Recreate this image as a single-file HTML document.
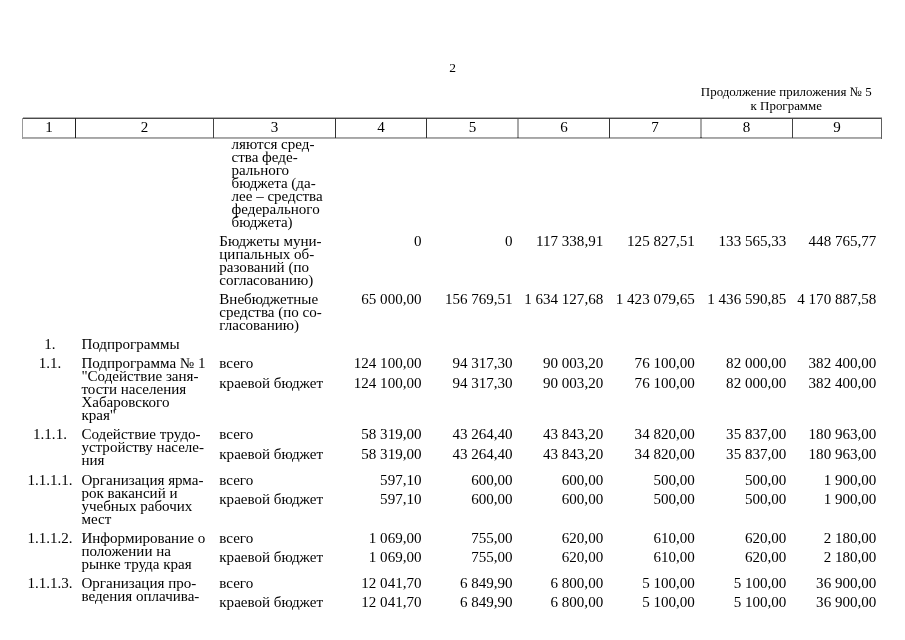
<!DOCTYPE html>
<html lang="ru"><head><meta charset="utf-8"><title>Приложение № 5</title>
<style>
html,body{margin:0;padding:0;background:#fff;}
body{width:905px;height:640px;position:relative;overflow:hidden;font-family:"Liberation Serif","Times New Roman",serif;font-size:15.05px;color:#000;}
.t{position:absolute;white-space:nowrap;line-height:16px;height:16px;}
.r{text-align:right;}
.c{text-align:center;}
.h{font-size:12.93px;}
.p{font-size:13.5px;}
.hl{position:absolute;background:#777;}
.vl{position:absolute;background:#111;}
</style></head><body>

<div class="hl" style="left:23px;top:117px;width:859px;height:1px;background:#b0b0b0"></div>
<div class="hl" style="left:22px;top:118px;width:860px;height:1px;background:#4a4a4a"></div>
<div class="hl" style="left:22px;top:137px;width:860px;height:1px;background:#a6a6a6"></div>
<div class="hl" style="left:22px;top:138px;width:860px;height:1px;background:#adadad"></div>
<div class="vl" style="left:22px;top:118px;width:1px;height:21px;background:#9a9a9a"></div>
<div class="vl" style="left:75px;top:118px;width:1px;height:20px;background:#222"></div>
<div class="vl" style="left:213px;top:118px;width:1px;height:20px;background:#444"></div>
<div class="vl" style="left:335px;top:118px;width:1px;height:20px;background:#333"></div>
<div class="vl" style="left:426px;top:118px;width:1px;height:20px;background:#333"></div>
<div class="vl" style="left:517px;top:119px;width:2px;height:18px;background:#a8a8a8"></div>
<div class="vl" style="left:609px;top:118px;width:1px;height:20px;background:#333"></div>
<div class="vl" style="left:700px;top:119px;width:2px;height:18px;background:#a8a8a8"></div>
<div class="vl" style="left:792px;top:118px;width:1px;height:20px;background:#444"></div>
<div class="vl" style="left:881px;top:118px;width:1px;height:21px;background:#606060"></div>
<div class="vl" style="left:517px;top:137px;width:2px;height:1px;background:#666"></div>
<div class="vl" style="left:700px;top:137px;width:2px;height:1px;background:#555"></div>
<div class="t c p" style="left:302.6px;width:300px;top:59.9px">2</div>
<div class="t c h" style="left:636.3px;width:300px;top:84.0px">Продолжение приложения № 5</div>
<div class="t c h" style="left:636.3px;width:300px;top:97.7px">к Программе</div>
<div class="t c" style="left:-101.0px;width:300px;top:119.4px">1</div>
<div class="t c" style="left:-5.5px;width:300px;top:119.4px">2</div>
<div class="t c" style="left:124.5px;width:300px;top:119.4px">3</div>
<div class="t c" style="left:231.0px;width:300px;top:119.4px">4</div>
<div class="t c" style="left:322.5px;width:300px;top:119.4px">5</div>
<div class="t c" style="left:414.0px;width:300px;top:119.4px">6</div>
<div class="t c" style="left:505.0px;width:300px;top:119.4px">7</div>
<div class="t c" style="left:596.5px;width:300px;top:119.4px">8</div>
<div class="t c" style="left:687.0px;width:300px;top:119.4px">9</div>
<div class="t" style="left:231.5px;top:136.2px">ляются сред-</div>
<div class="t" style="left:231.5px;top:149.1px">ства феде-</div>
<div class="t" style="left:231.5px;top:162.0px">рального</div>
<div class="t" style="left:231.5px;top:174.9px">бюджета (да-</div>
<div class="t" style="left:231.5px;top:187.8px">лее – средства</div>
<div class="t" style="left:231.5px;top:200.7px">федерального</div>
<div class="t" style="left:231.5px;top:213.6px">бюджета)</div>
<div class="t" style="left:219.3px;top:233.0px">Бюджеты муни-</div>
<div class="t" style="left:219.3px;top:245.9px">ципальных об-</div>
<div class="t" style="left:219.3px;top:258.8px">разований (по</div>
<div class="t" style="left:219.3px;top:271.7px">согласованию)</div>
<div class="t" style="left:219.3px;top:290.9px">Внебюджетные</div>
<div class="t" style="left:219.3px;top:303.8px">средства (по со-</div>
<div class="t" style="left:219.3px;top:316.7px">гласованию)</div>
<div class="t r" style="left:221.5px;width:200px;top:233.0px">0</div>
<div class="t r" style="left:312.6px;width:200px;top:233.0px">0</div>
<div class="t r" style="left:403.2px;width:200px;top:233.0px">117 338,91</div>
<div class="t r" style="left:494.8px;width:200px;top:233.0px">125 827,51</div>
<div class="t r" style="left:586.3px;width:200px;top:233.0px">133 565,33</div>
<div class="t r" style="left:676.3px;width:200px;top:233.0px">448 765,77</div>
<div class="t r" style="left:221.5px;width:200px;top:290.9px">65 000,00</div>
<div class="t r" style="left:312.6px;width:200px;top:290.9px">156 769,51</div>
<div class="t r" style="left:403.2px;width:200px;top:290.9px">1 634 127,68</div>
<div class="t r" style="left:494.8px;width:200px;top:290.9px">1 423 079,65</div>
<div class="t r" style="left:586.3px;width:200px;top:290.9px">1 436 590,85</div>
<div class="t r" style="left:676.3px;width:200px;top:290.9px">4 170 887,58</div>
<div class="t c" style="left:-100.0px;width:300px;top:336.4px">1.</div>
<div class="t" style="left:81.4px;top:336.4px">Подпрограммы</div>
<div class="t c" style="left:-100.0px;width:300px;top:355.4px">1.1.</div>
<div class="t" style="left:81.4px;top:355.4px">Подпрограмма № 1</div>
<div class="t" style="left:81.4px;top:368.3px">"Содействие заня-</div>
<div class="t" style="left:81.4px;top:381.2px">тости населения</div>
<div class="t" style="left:81.4px;top:394.1px">Хабаровского</div>
<div class="t" style="left:81.4px;top:407.0px">края"</div>
<div class="t" style="left:219.3px;top:355.4px">всего</div>
<div class="t" style="left:219.3px;top:375.0px">краевой бюджет</div>
<div class="t r" style="left:221.5px;width:200px;top:355.4px">124 100,00</div>
<div class="t r" style="left:312.6px;width:200px;top:355.4px">94 317,30</div>
<div class="t r" style="left:403.2px;width:200px;top:355.4px">90 003,20</div>
<div class="t r" style="left:494.8px;width:200px;top:355.4px">76 100,00</div>
<div class="t r" style="left:586.3px;width:200px;top:355.4px">82 000,00</div>
<div class="t r" style="left:676.3px;width:200px;top:355.4px">382 400,00</div>
<div class="t r" style="left:221.5px;width:200px;top:375.0px">124 100,00</div>
<div class="t r" style="left:312.6px;width:200px;top:375.0px">94 317,30</div>
<div class="t r" style="left:403.2px;width:200px;top:375.0px">90 003,20</div>
<div class="t r" style="left:494.8px;width:200px;top:375.0px">76 100,00</div>
<div class="t r" style="left:586.3px;width:200px;top:375.0px">82 000,00</div>
<div class="t r" style="left:676.3px;width:200px;top:375.0px">382 400,00</div>
<div class="t c" style="left:-100.0px;width:300px;top:426.4px">1.1.1.</div>
<div class="t" style="left:81.4px;top:426.4px">Содействие трудо-</div>
<div class="t" style="left:81.4px;top:439.3px">устройству населе-</div>
<div class="t" style="left:81.4px;top:452.2px">ния</div>
<div class="t" style="left:219.3px;top:426.4px">всего</div>
<div class="t" style="left:219.3px;top:445.6px">краевой бюджет</div>
<div class="t r" style="left:221.5px;width:200px;top:426.4px">58 319,00</div>
<div class="t r" style="left:312.6px;width:200px;top:426.4px">43 264,40</div>
<div class="t r" style="left:403.2px;width:200px;top:426.4px">43 843,20</div>
<div class="t r" style="left:494.8px;width:200px;top:426.4px">34 820,00</div>
<div class="t r" style="left:586.3px;width:200px;top:426.4px">35 837,00</div>
<div class="t r" style="left:676.3px;width:200px;top:426.4px">180 963,00</div>
<div class="t r" style="left:221.5px;width:200px;top:445.6px">58 319,00</div>
<div class="t r" style="left:312.6px;width:200px;top:445.6px">43 264,40</div>
<div class="t r" style="left:403.2px;width:200px;top:445.6px">43 843,20</div>
<div class="t r" style="left:494.8px;width:200px;top:445.6px">34 820,00</div>
<div class="t r" style="left:586.3px;width:200px;top:445.6px">35 837,00</div>
<div class="t r" style="left:676.3px;width:200px;top:445.6px">180 963,00</div>
<div class="t c" style="left:-100.0px;width:300px;top:472.4px">1.1.1.1.</div>
<div class="t" style="left:81.4px;top:472.4px">Организация ярма-</div>
<div class="t" style="left:81.4px;top:485.3px">рок вакансий и</div>
<div class="t" style="left:81.4px;top:498.2px">учебных рабочих</div>
<div class="t" style="left:81.4px;top:511.1px">мест</div>
<div class="t" style="left:219.3px;top:472.4px">всего</div>
<div class="t" style="left:219.3px;top:491.4px">краевой бюджет</div>
<div class="t r" style="left:221.5px;width:200px;top:472.4px">597,10</div>
<div class="t r" style="left:312.6px;width:200px;top:472.4px">600,00</div>
<div class="t r" style="left:403.2px;width:200px;top:472.4px">600,00</div>
<div class="t r" style="left:494.8px;width:200px;top:472.4px">500,00</div>
<div class="t r" style="left:586.3px;width:200px;top:472.4px">500,00</div>
<div class="t r" style="left:676.3px;width:200px;top:472.4px">1 900,00</div>
<div class="t r" style="left:221.5px;width:200px;top:491.4px">597,10</div>
<div class="t r" style="left:312.6px;width:200px;top:491.4px">600,00</div>
<div class="t r" style="left:403.2px;width:200px;top:491.4px">600,00</div>
<div class="t r" style="left:494.8px;width:200px;top:491.4px">500,00</div>
<div class="t r" style="left:586.3px;width:200px;top:491.4px">500,00</div>
<div class="t r" style="left:676.3px;width:200px;top:491.4px">1 900,00</div>
<div class="t c" style="left:-100.0px;width:300px;top:530.0px">1.1.1.2.</div>
<div class="t" style="left:81.4px;top:530.0px">Информирование о</div>
<div class="t" style="left:81.4px;top:542.9px">положении на</div>
<div class="t" style="left:81.4px;top:555.8px">рынке труда края</div>
<div class="t" style="left:219.3px;top:530.0px">всего</div>
<div class="t" style="left:219.3px;top:549.0px">краевой бюджет</div>
<div class="t r" style="left:221.5px;width:200px;top:530.0px">1 069,00</div>
<div class="t r" style="left:312.6px;width:200px;top:530.0px">755,00</div>
<div class="t r" style="left:403.2px;width:200px;top:530.0px">620,00</div>
<div class="t r" style="left:494.8px;width:200px;top:530.0px">610,00</div>
<div class="t r" style="left:586.3px;width:200px;top:530.0px">620,00</div>
<div class="t r" style="left:676.3px;width:200px;top:530.0px">2 180,00</div>
<div class="t r" style="left:221.5px;width:200px;top:549.0px">1 069,00</div>
<div class="t r" style="left:312.6px;width:200px;top:549.0px">755,00</div>
<div class="t r" style="left:403.2px;width:200px;top:549.0px">620,00</div>
<div class="t r" style="left:494.8px;width:200px;top:549.0px">610,00</div>
<div class="t r" style="left:586.3px;width:200px;top:549.0px">620,00</div>
<div class="t r" style="left:676.3px;width:200px;top:549.0px">2 180,00</div>
<div class="t c" style="left:-100.0px;width:300px;top:575.0px">1.1.1.3.</div>
<div class="t" style="left:81.4px;top:575.0px">Организация про-</div>
<div class="t" style="left:81.4px;top:587.9px">ведения оплачива-</div>
<div class="t" style="left:219.3px;top:575.0px">всего</div>
<div class="t" style="left:219.3px;top:594.0px">краевой бюджет</div>
<div class="t r" style="left:221.5px;width:200px;top:575.0px">12 041,70</div>
<div class="t r" style="left:312.6px;width:200px;top:575.0px">6 849,90</div>
<div class="t r" style="left:403.2px;width:200px;top:575.0px">6 800,00</div>
<div class="t r" style="left:494.8px;width:200px;top:575.0px">5 100,00</div>
<div class="t r" style="left:586.3px;width:200px;top:575.0px">5 100,00</div>
<div class="t r" style="left:676.3px;width:200px;top:575.0px">36 900,00</div>
<div class="t r" style="left:221.5px;width:200px;top:594.0px">12 041,70</div>
<div class="t r" style="left:312.6px;width:200px;top:594.0px">6 849,90</div>
<div class="t r" style="left:403.2px;width:200px;top:594.0px">6 800,00</div>
<div class="t r" style="left:494.8px;width:200px;top:594.0px">5 100,00</div>
<div class="t r" style="left:586.3px;width:200px;top:594.0px">5 100,00</div>
<div class="t r" style="left:676.3px;width:200px;top:594.0px">36 900,00</div>
</body></html>
